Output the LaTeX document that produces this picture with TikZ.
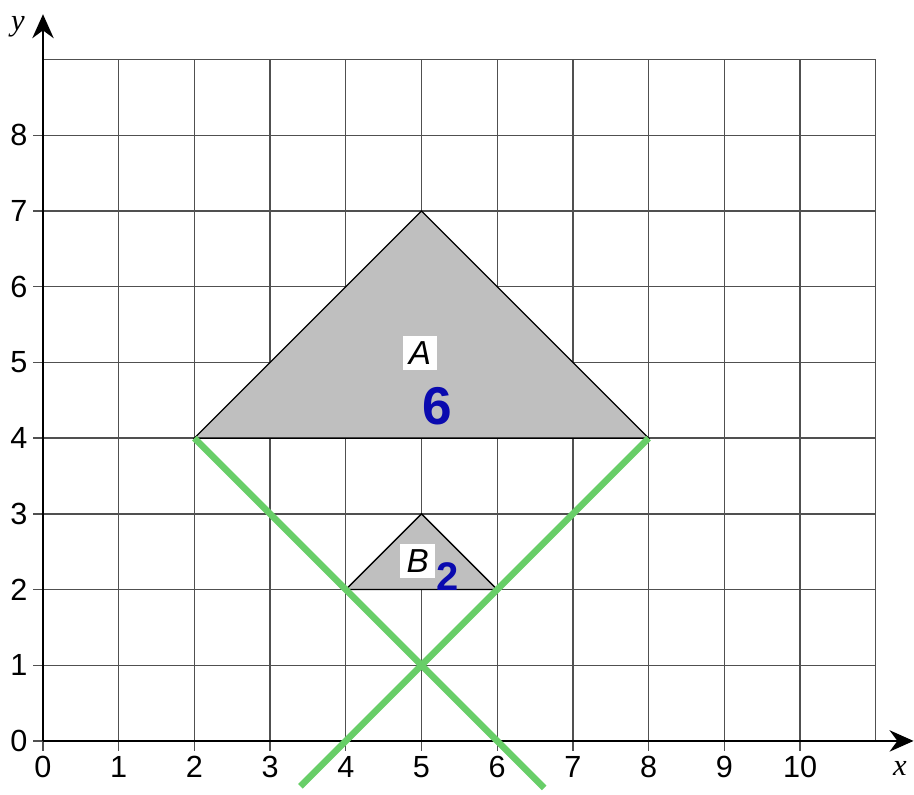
\documentclass[tikz,border=0pt]{standalone}
\usepackage{fontspec}
\setmainfont{Liberation Serif}
\setsansfont{Liberation Sans}
\usetikzlibrary{arrows.meta}
\definecolor{gridc}{RGB}{80,80,80}
\definecolor{shade}{RGB}{191,191,191}
\definecolor{greenl}{RGB}{104,206,104}
\definecolor{inkblue}{RGB}{10,10,175}
\tikzset{
  gridline/.style={draw=gridc, line width=0.5pt},
  axisline/.style={draw=black, line width=1pt},
  tri/.style={fill=shade, draw=black, line width=0.5pt},
  crossline/.style={draw=greenl, line width=2.4pt},
  ticklab/.style={font=\sffamily\fontsize{11.5}{12}\selectfont, inner sep=0pt},
  axlab/.style={font=\itshape\fontsize{11.5}{12}\selectfont, inner sep=0pt},
  tag/.style={fill=white, font=\sffamily\itshape\fontsize{12.5}{13}\selectfont, minimum width=0.46cm, minimum height=0.45cm, inner sep=0pt},
  hand/.style={text=inkblue, font=\sffamily\bfseries\fontsize{20}{22}\selectfont, inner sep=0pt}
}
\begin{document}
\begin{tikzpicture}
\useasboundingbox (-0.568,-0.714) rectangle (11.506,9.788);
% grid
\foreach \i in {1,...,11} \draw[gridline] (\i,0) -- (\i,9);
\foreach \j in {1,...,9} \draw[gridline] (0,\j) -- (11,\j);
% triangles
\draw[tri] (2,4) -- (5,7) -- (8,4) -- cycle;
\draw[tri] (4,2) -- (5,3) -- (6,2) -- cycle;
% ticks
\foreach \i in {0,...,10} \draw[gridc, line width=0.5pt] (\i,0) -- (\i,-0.13);
\foreach \j in {0,...,8} \draw[gridc, line width=0.5pt] (0,\j) -- (-0.13,\j);
% axes
\coordinate (o) at (0,0);
\coordinate (xe) at (11.5,0);
\coordinate (ye) at (0,9.6);
\draw[axisline, -{Stealth[length=9pt,width=8pt]}] (o) -- (xe);
\draw[axisline, -{Stealth[length=9pt,width=8pt]}] (o) -- (ye);
% labels
\foreach \i in {0,...,10} \node[ticklab] (xl\i) at (\i,-0.34) {\i};
\foreach \j in {0,...,8} \node[ticklab] (yl\j) at (-0.32,\j) {\j};
\node[axlab] (xlab) at (11.32,-0.37) {x};
\node[axlab] (ylab) at (-0.33,9.43) {y};
% green lines
\coordinate (p1) at (2,4);
\coordinate (p2) at (6.62,-0.62);
\coordinate (q1) at (8,4);
\coordinate (q2) at (3.4,-0.6);
\draw[crossline] (p1) -- (p2);
\draw[crossline] (q1) -- (q2);
% tags
\node[tag] (A) at (4.98,5.12) {A};
\node[tag] (B) at (4.95,2.38) {B};
\node[hand] (six) at (5.21,4.42) {6};
\node[hand, font=\sffamily\bfseries\fontsize{15}{17}\selectfont] (two) at (5.34,2.17) {2};
\end{tikzpicture}
\end{document}
